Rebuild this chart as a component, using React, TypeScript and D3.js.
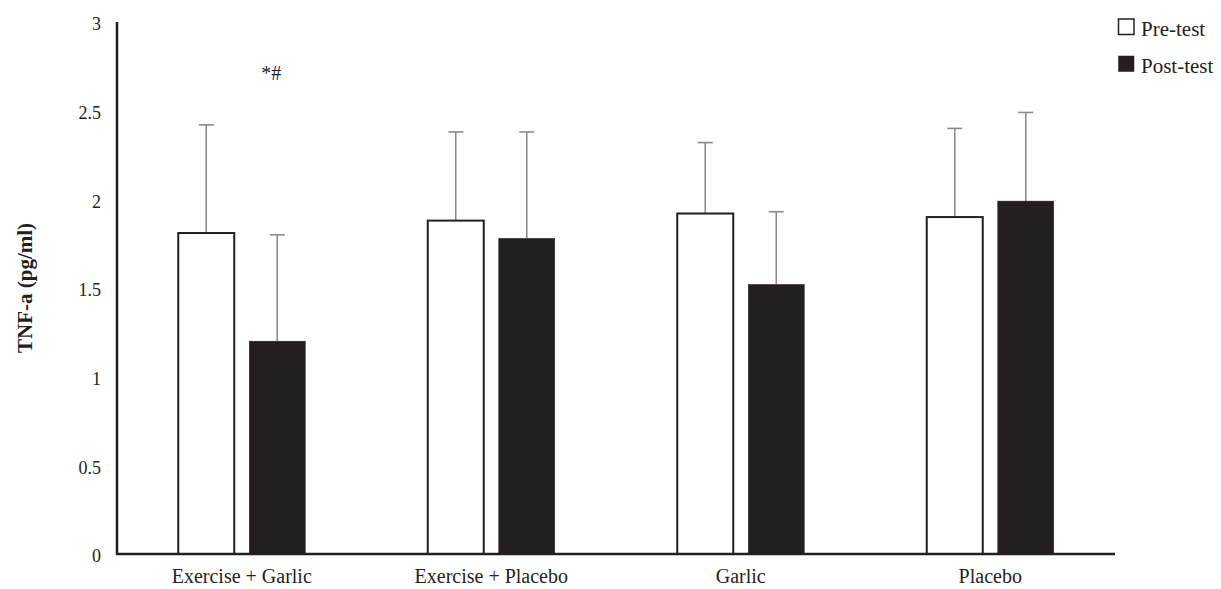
import React, { useEffect, useRef } from 'react'
import * as d3 from 'd3'

const groups = ['Exercise + Garlic', 'Exercise + Placebo', 'Garlic', 'Placebo']
const series = ['Pre-test', 'Post-test']
const preMean = [1.81, 1.88, 1.92, 1.9]
const postMean = [1.2, 1.78, 1.52, 1.99]
const preSD = [0.61, 0.5, 0.4, 0.5]
const postSD = [0.6, 0.6, 0.41, 0.5]
const yTicks = [0, 0.5, 1, 1.5, 2, 2.5, 3]
const yLabels = ['0', '0.5', '1', '1.5', '2', '2.5', '3']

export default function App() {
    const svgRef = useRef<SVGSVGElement>(null)

    const width = 1221
    const height = 589

    useEffect(() => {
        const svg = d3.select(svgRef.current)
        svg.selectAll('*').remove()

        const font = '"Liberation Serif", "DejaVu Serif", serif'
        const dark = '#231f20'

        const x = d3.scaleBand().domain(groups).range([117, 1115])
        const y = d3.scaleLinear().domain([0, 3]).range([554, 22])
        const barW = 56
        const gap = 15

        const rows = groups.map((g, i) => ({
            g,
            vals: [
                { s: series[0], m: preMean[i], sd: preSD[i] },
                { s: series[1], m: postMean[i], sd: postSD[i] },
            ],
        }))

        // y tick labels
        svg.append('g')
            .selectAll('text')
            .data(yTicks)
            .enter()
            .append('text')
            .attr('x', 101)
            .attr('y', (d) => y(d) + 2)
            .attr('dy', '0.35em')
            .attr('text-anchor', 'end')
            .attr('font-family', font)
            .attr('font-size', 18)
            .attr('fill', dark)
            .text((d, i) => yLabels[i])

        // y axis title
        svg.append('text')
            .attr('transform', `translate(32, ${y(1.5)}) rotate(-90)`)
            .attr('text-anchor', 'middle')
            .attr('font-family', font)
            .attr('font-size', 21)
            .attr('font-weight', 'bold')
            .attr('fill', dark)
            .text('TNF-a (pg/ml)')

        const bx = (gi: string, si: number) => {
            const c = (x(gi) as number) + x.bandwidth() / 2
            return si === 0 ? c - gap / 2 - barW : c + gap / 2
        }

        // error bars
        const eb = svg.append('g').attr('stroke', '#8a8a8a').attr('stroke-width', 1.6)
        rows.forEach((r) => {
            r.vals.forEach((v, si) => {
                const cx = bx(r.g, si) + barW / 2
                eb.append('line')
                    .attr('x1', cx).attr('x2', cx)
                    .attr('y1', y(v.m)).attr('y2', y(v.m + v.sd))
                eb.append('line')
                    .attr('x1', cx - 7.5).attr('x2', cx + 7.5)
                    .attr('y1', y(v.m + v.sd)).attr('y2', y(v.m + v.sd))
            })
        })

        // bars
        rows.forEach((r) => {
            svg.append('g')
                .selectAll('rect')
                .data(r.vals)
                .enter()
                .append('rect')
                .attr('x', (d, si) => bx(r.g, si))
                .attr('y', (d) => y(d.m))
                .attr('width', barW)
                .attr('height', (d) => y(0) - y(d.m))
                .attr('fill', (d, si) => (si === 0 ? '#fff' : dark))
                .attr('stroke', dark)
                .attr('stroke-width', (d, si) => (si === 0 ? 2 : 0.5))
        })

        // axes lines
        svg.append('line')
            .attr('x1', 117).attr('x2', 117)
            .attr('y1', y(3)).attr('y2', y(0) + 1)
            .attr('stroke', dark).attr('stroke-width', 2.5)
        svg.append('line')
            .attr('x1', 116).attr('x2', 1115)
            .attr('y1', y(0)).attr('y2', y(0))
            .attr('stroke', dark).attr('stroke-width', 2.5)

        // x labels
        svg.append('g')
            .selectAll('text')
            .data(groups)
            .enter()
            .append('text')
            .attr('x', (d) => (x(d) as number) + x.bandwidth() / 2)
            .attr('y', 583)
            .attr('text-anchor', 'middle')
            .attr('font-family', font)
            .attr('font-size', 20)
            .attr('fill', dark)
            .text((d) => d)

        // significance mark
        svg.append('text')
            .attr('x', bx(groups[0], 1) + barW / 2 - 6)
            .attr('y', 80)
            .attr('text-anchor', 'middle')
            .attr('font-family', font)
            .attr('font-size', 20)
            .attr('fill', dark)
            .text('*#')

        // legend
        const lg = svg.append('g')
        series.forEach((s, i) => {
            lg.append('rect')
                .attr('x', 1118.5).attr('y', 19 + i * 37)
                .attr('width', 15.5).attr('height', 15.5)
                .attr('fill', i === 0 ? '#fff' : dark)
                .attr('stroke', dark)
                .attr('stroke-width', i === 0 ? 1.5 : 0.5)
            lg.append('text')
                .attr('x', 1141).attr('y', 35.5 + i * 37)
                .attr('font-family', font)
                .attr('font-size', 21)
                .attr('fill', dark)
                .text(s)
        })
    }, [])

    return (
        <svg
            ref={svgRef}
            width={width}
            height={height}
            style={{ position: 'absolute', left: 0, top: 0, background: '#fff' }}
        />
    )
}
